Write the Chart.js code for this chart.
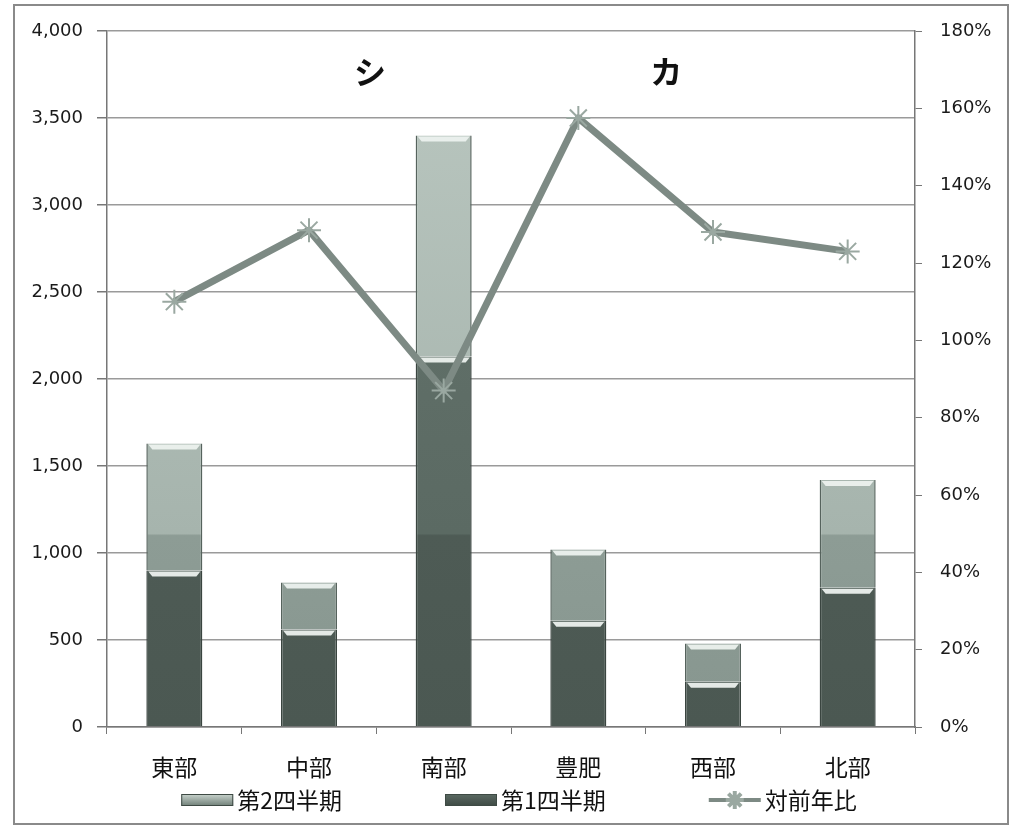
<!DOCTYPE html>
<html lang="ja">
<head>
<meta charset="utf-8">
<title>地区別売上</title>
<script src="https://cdn.jsdelivr.net/npm/chart.js@4.4.1/dist/chart.umd.min.js"></script>
<style>
  html, body { margin: 0; padding: 0; background: #fff; }
  #wrap { position: relative; width: 1017px; height: 829px; }
</style>
</head>
<body>
<div id="wrap"><canvas id="salesChart"></canvas></div>
<script>
// 地区別 四半期売上と対前年比
const regions = ['東部', '中部', '南部', '豊肥', '西部', '北部'];
const q1Sales = [900, 560, 2130, 610, 260, 800];
const q2Sales = [730, 270, 1270, 410, 220, 620];
const yoyRatio = [110, 128.5, 87, 157.5, 128, 123];
const salesTicks = [0, 500, 1000, 1500, 2000, 2500, 3000, 3500, 4000];
const ratioTicks = [0, 20, 40, 60, 80, 100, 120, 140, 160, 180];
const headerMarks = ['シ', 'カ'];

const JP_FONT = '"Noto Sans CJK JP", "Noto Sans", sans-serif';
const NUM_FONT = '"DejaVu Sans", sans-serif';

// shading changes at this value across all bars
const SHADE_BREAK = 1100;

function bandFill(context, low, high, top) {
  const chart = context.chart;
  const area = chart.chartArea;
  if (!area) return low[0];
  const yScale = chart.scales.y;
  const brk = (area.bottom - yScale.getPixelForValue(SHADE_BREAK)) / (area.bottom - area.top);
  const g = chart.ctx.createLinearGradient(0, area.bottom, 0, area.top);
  g.addColorStop(0, low[0]);
  g.addColorStop(brk, low[1]);
  g.addColorStop(Math.min(brk + 0.003, 1), high);
  g.addColorStop(1, top);
  return g;
}

const swatches = {
  '第1四半期': ['#5b6a63', '#3e4a44'],
  '第2四半期': ['#c9d4ce', '#6f7f77']
};

// outer frame of the chart object
const chartFrame = {
  id: 'chartFrame',
  beforeDraw(chart) {
    const ctx = chart.ctx;
    ctx.save();
    ctx.fillStyle = '#fff';
    ctx.fillRect(0, 0, chart.width, chart.height);
    ctx.strokeStyle = '#8a8a8a';
    ctx.lineWidth = 2;
    ctx.strokeRect(14, 5, chart.width - 23, chart.height - 10);
    ctx.restore();
  }
};

// light bevel at the top of each bar segment
const barCaps = {
  id: 'barCaps',
  afterDatasetDraw(chart, args) {
    if (args.meta.type !== 'bar') return;
    const ctx = chart.ctx;
    ctx.save();
    args.meta.data.forEach(bar => {
      const left = bar.x - bar.width / 2;
      ctx.fillStyle = 'rgba(236,241,238,0.95)';
      ctx.beginPath();
      ctx.moveTo(left + 2, bar.y + 1);
      ctx.lineTo(left + bar.width - 2, bar.y + 1);
      ctx.lineTo(left + bar.width - 6, bar.y + 6);
      ctx.lineTo(left + 6, bar.y + 6);
      ctx.closePath();
      ctx.fill();
    });
    ctx.restore();
  }
};

const headerText = {
  id: 'headerText',
  afterDraw(chart) {
    const area = chart.chartArea;
    const ctx = chart.ctx;
    const spots = [0.3255, 0.692];
    ctx.save();
    ctx.font = 'bold 32px ' + JP_FONT;
    ctx.fillStyle = '#111';
    ctx.textAlign = 'center';
    ctx.textBaseline = 'middle';
    headerMarks.forEach((t, i) => {
      ctx.fillText(t, area.left + (area.right - area.left) * spots[i], area.top + 41);
    });
    ctx.restore();
  }
};

// legend row under the category labels
const bottomLegend = {
  id: 'bottomLegend',
  afterDraw(chart) {
    const ctx = chart.ctx;
    const area = chart.chartArea;
    const items = [1, 0, 2].map(i => chart.data.datasets[i]);
    const swW = 52, gap = 4, spacing = 103;
    ctx.save();
    ctx.font = '23px ' + JP_FONT;
    const widths = items.map(ds => swW + gap + ctx.measureText(ds.label).width);
    const total = widths.reduce((a, b) => a + b, 0) + spacing * (items.length - 1);
    let x = (area.left + area.right) / 2 + 8 - total / 2;
    const y = area.bottom + 73;
    items.forEach((ds, k) => {
      if (ds.type === 'line') {
        ctx.strokeStyle = ds.borderColor;
        ctx.lineWidth = 4;
        ctx.beginPath();
        ctx.moveTo(x, y);
        ctx.lineTo(x + swW, y);
        ctx.stroke();
        ctx.strokeStyle = ds.pointBorderColor;
        Chart.helpers.drawPoint(ctx, { pointStyle: 'star', radius: 9, borderWidth: 2, rotation: 0 }, x + swW / 2, y);
      } else {
        const [hi, lo] = swatches[ds.label];
        const g = ctx.createLinearGradient(0, y - 6, 0, y + 6);
        g.addColorStop(0, hi);
        g.addColorStop(1, lo);
        ctx.fillStyle = g;
        ctx.fillRect(x, y - 6, swW, 12);
        ctx.strokeStyle = '#3e4a44';
        ctx.lineWidth = 1;
        ctx.strokeRect(x + 0.5, y - 5.5, swW - 1, 11);
      }
      ctx.fillStyle = '#111';
      ctx.textAlign = 'left';
      ctx.textBaseline = 'middle';
      ctx.fillText(ds.label, x + swW + gap, y);
      x += widths[k] + spacing;
    });
    ctx.restore();
  }
};

new Chart(document.getElementById('salesChart'), {
  type: 'bar',
  data: {
    labels: regions,
    datasets: [
      {
        label: '第1四半期',
        data: q1Sales,
        order: 1,
        backgroundColor: c => bandFill(c, ['#4b5852', '#4e5b55'], '#5b6a63', '#66756e'),
        borderColor: '#3a4540',
        borderWidth: { left: 1.5, right: 1.5, top: 0, bottom: 0 },
        borderSkipped: false,
        barPercentage: 0.416,
        categoryPercentage: 1
      },
      {
        label: '第2四半期',
        data: q2Sales,
        order: 1,
        backgroundColor: c => bandFill(c, ['#87968f', '#8d9c95'], '#a6b4ad', '#bac7c0'),
        borderColor: '#56635d',
        borderWidth: { left: 1.5, right: 1.5, top: 0, bottom: 0 },
        borderSkipped: false,
        barPercentage: 0.416,
        categoryPercentage: 1
      },
      {
        type: 'line',
        label: '対前年比',
        data: yoyRatio,
        yAxisID: 'y1',
        order: 0,
        borderColor: '#7d8a84',
        borderWidth: 7,
        borderJoinStyle: 'round',
        tension: 0,
        pointStyle: 'star',
        pointRadius: 12,
        pointBorderWidth: 2,
        pointBorderColor: '#9aa8a1',
        pointBackgroundColor: '#9aa8a1'
      }
    ]
  },
  options: {
    responsive: true,
    maintainAspectRatio: false,
    animation: false,
    layout: { padding: { left: 15, right: 10, top: 31, bottom: 0 } },
    plugins: {
      legend: { display: false },
      tooltip: { enabled: false }
    },
    scales: {
      x: {
        stacked: true,
        grid: { offset: true, drawOnChartArea: false, tickLength: 7, color: '#777' },
        border: { color: '#777', width: 1.5 },
        ticks: { font: { family: JP_FONT, size: 23 }, color: '#111', padding: 19 },
        afterFit: s => { s.height = 102; }
      },
      y: {
        stacked: true,
        position: 'left',
        min: 0,
        max: 4000,
        afterBuildTicks: s => { s.ticks = salesTicks.map(v => ({ value: v })); },
        grid: { color: '#9a9a9a', lineWidth: 1.5, tickLength: 10, tickColor: '#777' },
        border: { color: '#777', width: 1.5 },
        ticks: {
          padding: 14,
          color: '#1a1a1a',
          font: { family: NUM_FONT, size: 18 },
          callback: v => v.toLocaleString('en-US')
        },
        afterFit: s => { s.width = 92; }
      },
      y1: {
        position: 'right',
        min: 0,
        max: 180,
        afterBuildTicks: s => { s.ticks = ratioTicks.map(v => ({ value: v })); },
        grid: { drawOnChartArea: false, tickLength: 7, color: '#777' },
        border: { color: '#777', width: 1.5 },
        ticks: {
          padding: 18,
          color: '#1a1a1a',
          font: { family: NUM_FONT, size: 18 },
          callback: v => v + '%'
        },
        afterFit: s => { s.width = 92; }
      }
    }
  },
  plugins: [chartFrame, barCaps, headerText, bottomLegend]
});
</script>
</body>
</html>
